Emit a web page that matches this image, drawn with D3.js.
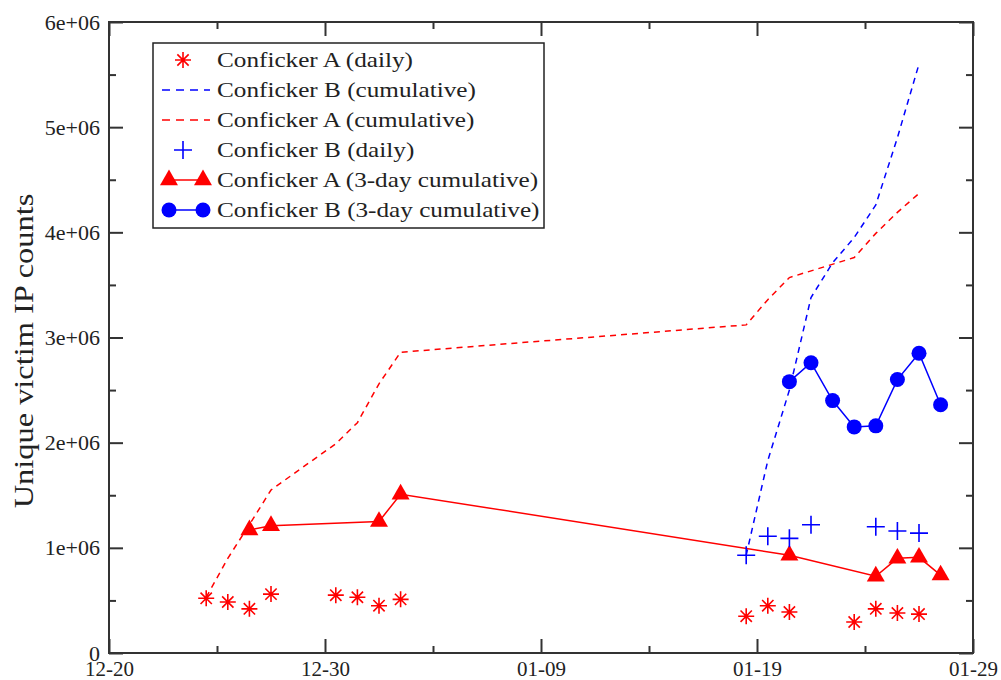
<!DOCTYPE html>
<html>
<head>
<meta charset="utf-8">
<script src="https://cdnjs.cloudflare.com/ajax/libs/d3/7.8.5/d3.min.js"></script>
<style>
  body { margin: 0; background: #fff; }
  text { font-family: "Liberation Serif", "DejaVu Serif", serif; fill: #222; }
</style>
</head>
<body>
<svg id="chart" width="1001" height="680"></svg>
<script>
// tick labels
const xMajorTicks = ["2008-12-20","2008-12-30","2009-01-09","2009-01-19","2009-01-29"]
const xMinorTicks = ["2008-12-25","2009-01-04","2009-01-14","2009-01-24"]
const yMajorTicks = [0,1e6,2e6,3e6,4e6,5e6,6e6]
const yMinorTicks = [0.5e6,1.5e6,2.5e6,3.5e6,4.5e6,5.5e6]

// Conficker A daily / cumulative (same days)
const aDays = ["2008-12-24","2008-12-25","2008-12-26","2008-12-27","2008-12-30","2008-12-31","2009-01-01","2009-01-02",
               "2009-01-18","2009-01-19","2009-01-20","2009-01-23","2009-01-24","2009-01-25","2009-01-26"]
const aDaily = [0.52,0.485,0.42,0.56,0.55,0.53,0.45,0.51, 0.35,0.45,0.39,0.295,0.42,0.38,0.37]
const aCumulative = [0.53,0.90,1.22,1.55,1.99,2.19,2.56,2.86, 3.12,3.36,3.57,3.76,3.99,4.19,4.37]

// Conficker B daily
const bDailyDays = ["2009-01-18","2009-01-19","2009-01-20","2009-01-21","2009-01-24","2009-01-25","2009-01-26"]
const bDaily = [0.93,1.11,1.09,1.22,1.20,1.16,1.14]

// Conficker B cumulative
const bCumDays = ["2009-01-18","2009-01-19","2009-01-20","2009-01-21","2009-01-22","2009-01-23","2009-01-24","2009-01-25","2009-01-26"]
const bCumulative = [0.93,1.83,2.50,3.38,3.71,3.95,4.26,4.90,5.60]

// 3-day cumulative
const a3Days = ["2008-12-26","2008-12-27","2009-01-01","2009-01-02","2009-01-20","2009-01-24","2009-01-25","2009-01-26","2009-01-27"]
const a3Day = [1.17,1.21,1.25,1.51,0.93,0.73,0.90,0.91,0.74]
const b3Days = ["2009-01-20","2009-01-21","2009-01-22","2009-01-23","2009-01-24","2009-01-25","2009-01-26","2009-01-27"]
const b3Day = [2.58,2.76,2.40,2.15,2.16,2.60,2.85,2.36]

const legendLabels = ["Conficker A (daily)","Conficker B (cumulative)","Conficker A (cumulative)",
                      "Conficker B (daily)","Conficker A (3-day cumulative)","Conficker B (3-day cumulative)"]

const RED = "#ff0000", BLUE = "#0000ff", FRAME = "#333"

let margin = { left: 109, right: 28, top: 22, bottom: 27 }
let W = 1001, H = 680
let svg = d3.select("#chart")

let day = s => new Date(s + "T00:00:00Z")
let noon = s => new Date(s + "T12:00:00Z")   // daily samples sit mid-day

let x = d3.scaleUtc()
	.domain([day(xMajorTicks[0]), day(xMajorTicks[xMajorTicks.length-1])])
	.range([margin.left, W - margin.right])
let y = d3.scaleLinear()
	.domain([0, 6e6])
	.range([H - margin.bottom, margin.top])

let pts = (days, vals) => days.map((d,i)=>({ t: noon(d), v: vals[i]*1e6 }))

// ---- frame and axes (ticks point inward on all four sides)
let xMaj = xMajorTicks.map(day), xMin = xMinorTicks.map(day)
let fmtX = d3.utcFormat("%m-%d")
let fmtY = v => v === 0 ? "0" : (v/1e6) + "e+06"

function axisGroup(axis, tx, ty){
	let g = svg.append("g").attr("transform", `translate(${tx},${ty})`).call(axis)
	g.select(".domain").remove()
	g.selectAll("line").attr("stroke", FRAME).attr("stroke-width", 2)
	return g
}

let bx = axisGroup(d3.axisBottom(x).tickValues(xMaj).tickSize(-14).tickPadding(8).tickFormat(fmtX), 0, H - margin.bottom)
bx.selectAll("text").attr("font-size", 21).attr("fill", "#222")
axisGroup(d3.axisBottom(x).tickValues(xMin).tickSize(-7).tickFormat(""), 0, H - margin.bottom)
axisGroup(d3.axisTop(x).tickValues(xMaj).tickSize(-14).tickFormat(""), 0, margin.top)
axisGroup(d3.axisTop(x).tickValues(xMin).tickSize(-7).tickFormat(""), 0, margin.top)

let ly = axisGroup(d3.axisLeft(y).tickValues(yMajorTicks).tickSize(-14).tickPadding(9).tickFormat(fmtY), margin.left, 0)
ly.selectAll("text").attr("font-size", 22).attr("fill", "#222")
axisGroup(d3.axisLeft(y).tickValues(yMinorTicks).tickSize(-7).tickFormat(""), margin.left, 0)
axisGroup(d3.axisRight(y).tickValues(yMajorTicks).tickSize(-14).tickFormat(""), W - margin.right, 0)
axisGroup(d3.axisRight(y).tickValues(yMinorTicks).tickSize(-7).tickFormat(""), W - margin.right, 0)

svg.append("rect")
	.attr("x", margin.left).attr("y", margin.top)
	.attr("width", W - margin.left - margin.right)
	.attr("height", H - margin.top - margin.bottom)
	.attr("fill", "none").attr("stroke", FRAME).attr("stroke-width", 2)

// the original's serif text is a bit wider than Liberation Serif, stretch horizontally
svg.append("text")
	.attr("transform", `translate(33,351) rotate(-90) scale(1.2,1)`)
	.attr("text-anchor", "middle")
	.attr("font-size", 27)
	.text("Unique victim IP counts")

// ---- markers
let symTri = d3.symbol().type(d3.symbolTriangle).size(140)
function asterisk(g, cx, cy, r){
	let d = ""
	for(let k = 0; k < 4; k++){
		let a = k * Math.PI / 4
		let dx = r*Math.cos(a), dy = r*Math.sin(a)
		d += `M${cx-dx},${cy-dy}L${cx+dx},${cy+dy}`
	}
	g.append("path").attr("d", d).attr("stroke", RED).attr("stroke-width", 1.6).attr("fill", "none")
}
function plus(g, cx, cy, r){
	g.append("path").attr("d", `M${cx-r},${cy}L${cx+r},${cy}M${cx},${cy-r}L${cx},${cy+r}`)
		.attr("stroke", BLUE).attr("stroke-width", 1.6).attr("fill", "none")
}

let line = d3.line().x(d => x(d.t)).y(d => y(d.v))
let plot = svg.append("g")

// cumulative dashed lines
plot.append("path").datum(pts(aDays, aCumulative))
	.attr("d", line).attr("fill", "none").attr("stroke", RED).attr("stroke-width", 1.5).attr("stroke-dasharray", "6,5")
plot.append("path").datum(pts(bCumDays, bCumulative))
	.attr("d", line).attr("fill", "none").attr("stroke", BLUE).attr("stroke-width", 1.5).attr("stroke-dasharray", "6,5")

// 3-day lines + markers
let a3 = pts(a3Days, a3Day), b3 = pts(b3Days, b3Day)
plot.append("path").datum(a3).attr("d", line).attr("fill", "none").attr("stroke", RED).attr("stroke-width", 1.5)
plot.append("path").datum(b3).attr("d", line).attr("fill", "none").attr("stroke", BLUE).attr("stroke-width", 1.5)
a3.forEach(p => {
	plot.append("path").attr("d", symTri).attr("fill", RED)
		.attr("transform", `translate(${x(p.t)},${y(p.v)})`)
})
b3.forEach(p => {
	plot.append("circle").attr("cx", x(p.t)).attr("cy", y(p.v)).attr("r", 7.5).attr("fill", BLUE)
})

// daily markers
pts(aDays, aDaily).forEach(p => asterisk(plot, x(p.t), y(p.v), 8))
pts(bDailyDays, bDaily).forEach(p => plus(plot, x(p.t), y(p.v), 9))

// ---- legend
let lg = svg.append("g")
lg.append("rect").attr("x", 153).attr("y", 43).attr("width", 391).attr("height", 185)
	.attr("fill", "#fff").attr("stroke", "#222").attr("stroke-width", 1.5)
let rowY = i => 60 + i * 30
legendLabels.forEach((lab, i) => {
	lg.append("text").attr("transform", `translate(217,${rowY(i)}) scale(1.2,1)`).attr("dy", "0.35em")
		.attr("font-size", 21).text(lab)
})
asterisk(lg, 183, rowY(0), 8)
lg.append("line").attr("x1", 162).attr("x2", 210).attr("y1", rowY(1)).attr("y2", rowY(1))
	.attr("stroke", BLUE).attr("stroke-width", 1.5).attr("stroke-dasharray", "8,6")
lg.append("line").attr("x1", 162).attr("x2", 210).attr("y1", rowY(2)).attr("y2", rowY(2))
	.attr("stroke", RED).attr("stroke-width", 1.5).attr("stroke-dasharray", "8,6")
plus(lg, 183, rowY(3), 9)
lg.append("line").attr("x1", 169).attr("x2", 203).attr("y1", rowY(4)).attr("y2", rowY(4))
	.attr("stroke", RED).attr("stroke-width", 1.5)
;[169, 203].forEach(cx => lg.append("path").attr("d", symTri).attr("fill", RED)
	.attr("transform", `translate(${cx},${rowY(4)})`))
lg.append("line").attr("x1", 169).attr("x2", 203).attr("y1", rowY(5)).attr("y2", rowY(5))
	.attr("stroke", BLUE).attr("stroke-width", 1.5)
;[169, 203].forEach(cx => lg.append("circle").attr("cx", cx).attr("cy", rowY(5)).attr("r", 7.5).attr("fill", BLUE))
</script>
</body>
</html>
